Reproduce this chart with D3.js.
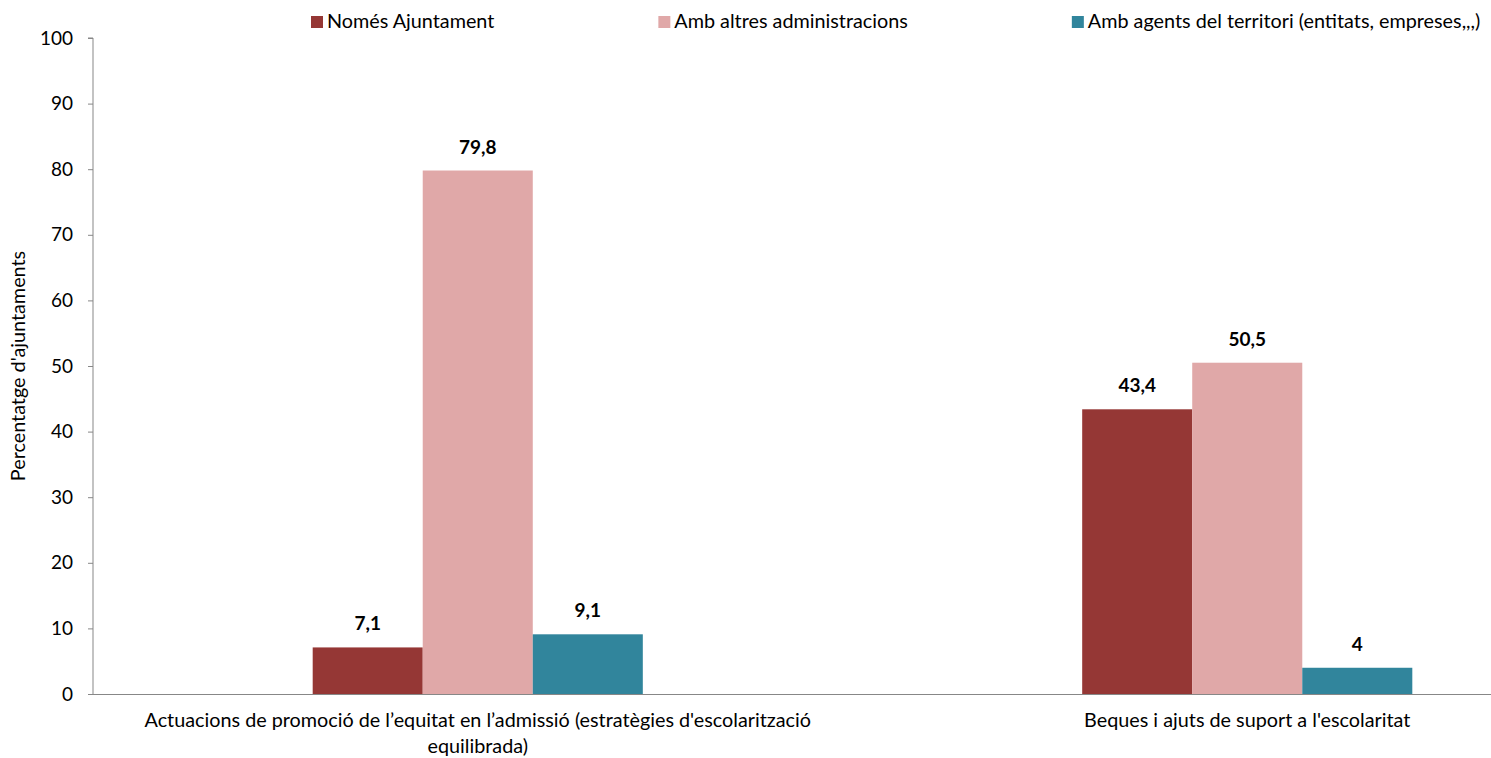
<!DOCTYPE html>
<html>
<head>
<meta charset="utf-8">
<script src="https://cdn.jsdelivr.net/npm/d3@7"></script>
<style>
  html, body { margin: 0; padding: 0; background: #fff; }
  svg { display: block; }
  text { font-family: Lato, "Liberation Sans", sans-serif; fill: #000; }
</style>
</head>
<body>
<svg id="chart" width="1491" height="758"></svg>
<script>
const categories = [
  "Actuacions de promoció de l’equitat en l’admissió (estratègies d'escolarització equilibrada)",
  "Beques i ajuts de suport a l'escolaritat"
];
const seriesNames = ["Només Ajuntament", "Amb altres administracions", "Amb agents del territori (entitats, empreses,,,)"];
const nomesAjuntament = [7.1, 43.4];
const ambAltresAdministracions = [79.8, 50.5];
const ambAgentsTerritori = [9.1, 4];
const yTicks = [0, 10, 20, 30, 40, 50, 60, 70, 80, 90, 100];
const colors = ["#953735", "#E0A8A8", "#31859C"];

const seriesValues = [nomesAjuntament, ambAltresAdministracions, ambAgentsTerritori];

const svg = d3.select("#chart");
const W = 1491, H = 758;
const margin = { left: 93, top: 38 };
const plotBottom = 694;
const FS = "19.8px";

const y = d3.scaleLinear().domain([0, 100]).range([plotBottom, margin.top]);
const x0 = d3.scaleBand().domain(categories).range([93, 1632]).paddingInner(0.571).paddingOuter(0.2855);
const x1 = d3.scaleBand().domain(seriesNames).range([0, x0.bandwidth()]);

const fmt = v => String(v).replace(".", ",");

// Bars
const groups = svg.append("g").selectAll("g").data(categories).join("g")
  .attr("transform", d => `translate(${x0(d)},0)`);

groups.selectAll("rect")
  .data((c, ci) => seriesNames.map((s, si) => ({ s, si, v: seriesValues[si][ci] })))
  .join("rect")
  .attr("x", d => x1(d.s))
  .attr("y", d => y(d.v))
  .attr("width", x1.bandwidth())
  .attr("height", d => y(0) - y(d.v))
  .attr("fill", d => colors[d.si]);

groups.selectAll("text.lbl")
  .data((c, ci) => seriesNames.map((s, si) => ({ s, si, v: seriesValues[si][ci] })))
  .join("text")
  .attr("class", "lbl")
  .attr("x", d => x1(d.s) + x1.bandwidth() / 2)
  .attr("y", d => y(d.v) - 17)
  .attr("text-anchor", "middle")
  .style("font-weight", "bold")
  .style("font-size", "19px")
  .text(d => fmt(d.v));

// Y axis
const yAxis = svg.append("g")
  .attr("transform", `translate(${margin.left},0)`)
  .call(d3.axisLeft(y).tickValues(yTicks).tickSize(5).tickPadding(15).tickFormat(d => d));
yAxis.selectAll("path, line").attr("stroke", "#878787");
yAxis.select(".domain").attr("d", `M-5,${y(100)}H0V${y(0)}`);
yAxis.selectAll("text").style("font-size", "19px").style("font-family", "Lato, 'Liberation Sans', sans-serif").attr("fill", "#000");

// X axis line
svg.append("line")
  .attr("x1", margin.left - 5).attr("x2", W)
  .attr("y1", plotBottom + 0.5).attr("y2", plotBottom + 0.5)
  .attr("stroke", "#878787");

// X labels with wrapping
function wrap(textSel, width) {
  textSel.each(function () {
    const t = d3.select(this);
    const words = t.text().split(/\s+/);
    const xx = t.attr("x");
    t.text(null);
    let line = [];
    let tspan = t.append("tspan").attr("x", xx).attr("dy", 0);
    for (const w of words) {
      line.push(w);
      tspan.text(line.join(" "));
      if (tspan.node().getComputedTextLength() > width && line.length > 1) {
        line.pop();
        tspan.text(line.join(" "));
        line = [w];
        tspan = t.append("tspan").attr("x", xx).attr("dy", 26).text(w);
      }
    }
  });
}
svg.append("g").selectAll("text").data(categories).join("text")
  .attr("x", d => x0(d) + x0.bandwidth() / 2)
  .attr("y", 727)
  .attr("text-anchor", "middle")
  .style("font-size", FS)
  .text(d => d)
  .call(wrap, 715);

// Y axis title
svg.append("text")
  .attr("transform", `translate(25,${(y(0) + y(100)) / 2}) rotate(-90)`)
  .attr("text-anchor", "middle")
  .style("font-size", FS)
  .text("Percentatge d'ajuntaments");

// Legend
const legend = svg.append("g");
let lx = 311;
seriesNames.forEach((s, i) => {
  legend.append("rect").attr("x", lx).attr("y", 16).attr("width", 12).attr("height", 12).attr("fill", colors[i]);
  const t = legend.append("text").attr("x", lx + 16).attr("y", 28).style("font-size", FS).text(s);
  lx += 16 + t.node().getComputedTextLength() + 164;
});
</script>
</body>
</html>
